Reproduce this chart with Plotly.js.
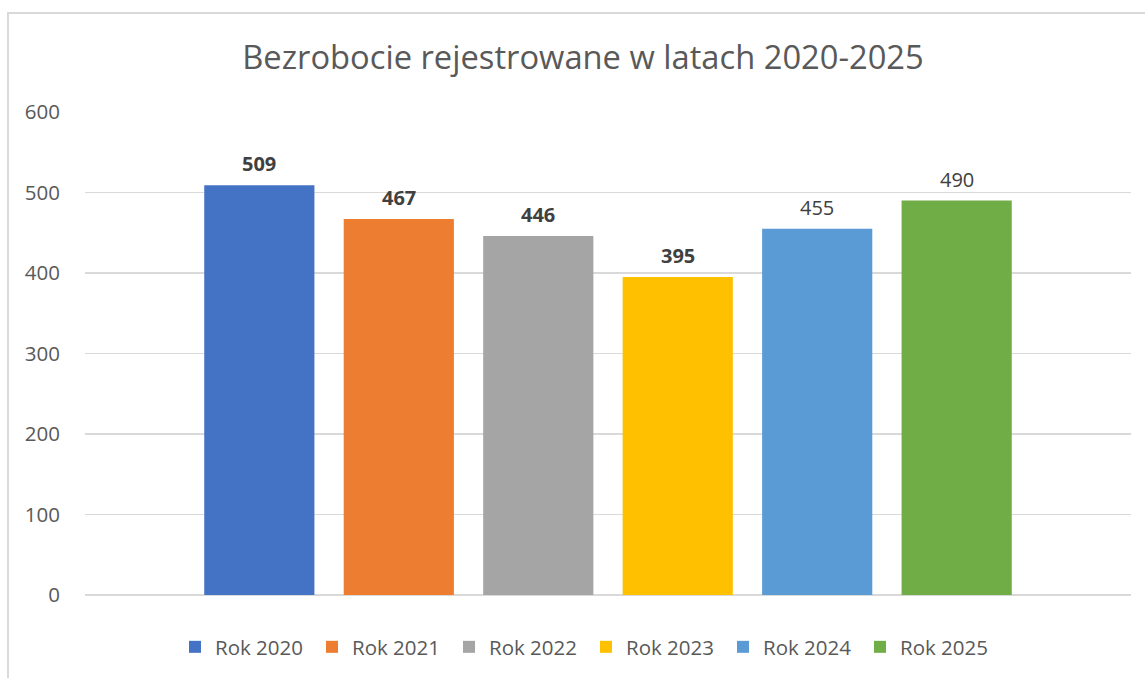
<!DOCTYPE html>
<html>
<head>
<meta charset="utf-8">
<script src="https://cdn.plot.ly/plotly-3.0.1.min.js"></script>
<style>
  html, body { margin: 0; padding: 0; background: #fff; overflow: hidden; }
  #graph { position: absolute; left: 0; top: 0; width: 1145px; height: 678px; }
  #frame { position: absolute; left: 7px; top: 12px; width: 1200px; height: 800px;
           border: 2px solid #d9d9d9; pointer-events: none; }
</style>
</head>
<body>
<div id="graph"></div>
<div id="frame"></div>
<script>
// data
var years = ["Rok 2020", "Rok 2021", "Rok 2022", "Rok 2023", "Rok 2024", "Rok 2025"];
var unemployed = [509, 467, 446, 395, 455, 490];

// office palette
var colors = ["#4472C4", "#ED7D31", "#A5A5A5", "#FFC000", "#5B9BD5", "#70AD47"];
var boldLabel = [true, true, true, true, false, false];

function drawGraph() {
    var data = [], notes = [];

    for (var i = 0; i < years.length; i++) {
        data.push({
            type: "bar",
            x: [years[i]],
            y: [unemployed[i]],
            name: years[i],
            width: 0.79,
            marker: { color: colors[i] },
            hoverinfo: "name+y"
        });

        // value label above the bar
        var txt = String(unemployed[i]);
        notes.push({
            x: years[i],
            y: unemployed[i],
            xref: "x",
            yref: "y",
            yanchor: "bottom",
            yshift: 6,
            showarrow: false,
            text: boldLabel[i] ? "<b>" + txt + "</b>" : txt,
            font: { family: "Open Sans", size: 20, color: "#404040" }
        });
    }

    var layout = {
        width: 1145,
        height: 678,
        margin: { l: 85, r: 14, t: 112, b: 83 },
        paper_bgcolor: "rgba(0,0,0,0)",
        plot_bgcolor: "rgba(0,0,0,0)",
        font: { family: "Open Sans", color: "#595959" },
        title: {
            text: "Bezrobocie rejestrowane w latach 2020-2025",
            font: { family: "Open Sans", size: 32.7, color: "#595959" },
            xref: "container",
            yref: "container",
            x: 583 / 1145,
            xanchor: "center",
            y: 1 - 58 / 678,
            yanchor: "middle"
        },
        barmode: "overlay",
        xaxis: {
            type: "category",
            categoryorder: "array",
            categoryarray: years,
            range: [-1.25, 6.25],
            showticklabels: false,
            showgrid: false,
            zeroline: false,
            showline: false,
            fixedrange: true
        },
        yaxis: {
            range: [0, 600],
            dtick: 100,
            tick0: 0,
            showgrid: true,
            gridcolor: "#d9d9d9",
            gridwidth: 1.3,
            zeroline: true,
            zerolinecolor: "#d9d9d9",
            zerolinewidth: 1.3,
            showline: false,
            ticks: "",
            ticklabelstandoff: 24,
            tickfont: { family: "Open Sans", size: 20.5, color: "#595959" },
            fixedrange: true
        },
        showlegend: true,
        legend: {
            orientation: "h",
            xref: "container",
            yref: "container",
            x: 586 / 1145,
            xanchor: "center",
            y: 1 - 647 / 678,
            yanchor: "middle",
            entrywidthmode: "pixels",
            entrywidth: 92,
            font: { family: "Open Sans", size: 20.5, color: "#595959" },
            bgcolor: "rgba(0,0,0,0)"
        },
        annotations: notes
    };

    Plotly.newPlot("graph", data, layout, { displayModeBar: false, staticPlot: true });
}

drawGraph();
</script>
</body>
</html>
